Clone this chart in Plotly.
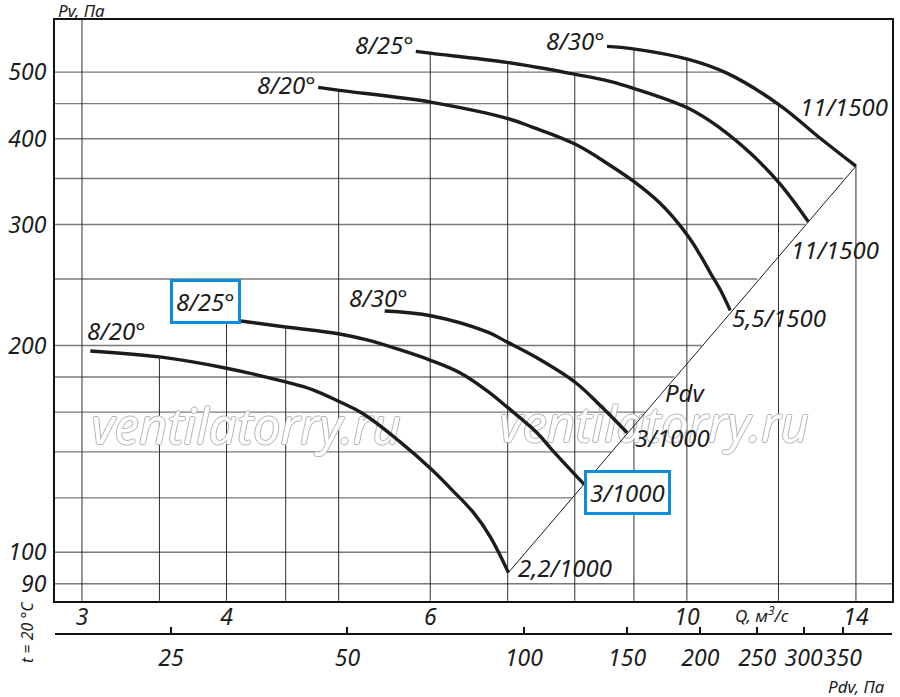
import numpy as np
import plotly.graph_objects as go

# Fan curves, Q (m3/s) vs Pv (Pa)
q_1000_20 = [3.05, 3.50, 3.99, 4.50, 4.75, 5.01, 5.25, 5.65, 6.02, 6.24, 6.54, 6.76, 7.01]
pv_1000_20 = [196.4, 192.5, 185.5, 177.0, 172.4, 165.6, 159.1, 144.8, 131.9, 124.1, 114.2, 105.4, 93.4]

q_1000_25 = [3.76, 3.99, 4.50, 5.01, 5.29, 5.62, 6.02, 6.37, 6.72, 6.99, 7.42, 7.66, 8.15]
pv_1000_25 = [221.5, 218.6, 212.8, 207.9, 203.8, 197.7, 190.0, 182.4, 171.8, 162.8, 149.3, 140.5, 125.6]

q_1000_30 = [5.48, 6.02, 6.72, 6.99, 7.42, 8.02, 8.42, 8.88]
pv_1000_30 = [224.5, 220.8, 209.3, 202.4, 191.9, 176.4, 163.4, 149.3]

q_1500_20 = [4.80, 5.01, 6.02, 6.99, 7.36, 8.01, 8.58, 8.99, 9.48, 9.73, 10.05, 10.27, 10.48,
             10.69, 10.90]
pv_1500_20 = [475.2, 470.4, 451.9, 428.3, 415.6, 392.6, 366.0, 346.9, 322.3, 307.5, 286.7, 270.7,
              255.0, 240.9, 225.0]

q_1500_25 = [5.83, 6.02, 6.99, 8.01, 8.58, 8.99, 10.03, 10.69, 11.35, 12.02, 12.73]
pv_1500_25 = [536.0, 532.4, 516.6, 496.3, 484.8, 473.6, 442.9, 414.2, 380.9, 344.6, 303.0]

q_1500_30 = [8.53, 8.99, 10.03, 10.84, 12.0, 13.04, 14.0]
pv_1500_30 = [545.1, 540.5, 521.8, 497.9, 448.9, 400.6, 364.8]

# Pdv line through the curve ends
pdv_q = [7.01, 14.0]
pdv_pv = [93.4, 364.8]

# grid (only drawn up to the curves / Pdv line, like on the drawing)
grid_pv = [90, 100, 120, 140, 160, 180, 200, 250, 300, 350, 400, 450, 500]
grid_pv_q_end = [16, 7.0, 7.96, 8.6, 9.2, 9.75, 10.3, 11.5, 12.65, 13.65, 13.0, 12.0, 10.8]
grid_q = [3, 3.5, 4, 4.5, 5, 6, 7, 8, 9, 10, 12, 14]
grid_q_pv_top = [650, 193, 218, 212, 470, 532, 517, 497, 540, 521, 449, 364.8]

q_ticks = [3, 4, 6, 10, 14]
pv_ticks = [90, 100, 200, 300, 400, 500]
pdv_ticks = [25, 50, 100, 150, 200, 250, 300, 350]

curves = [
    (q_1000_20, pv_1000_20, "8/20°", "2,2/1000"),
    (q_1000_25, pv_1000_25, "8/25°", "3/1000"),
    (q_1000_30, pv_1000_30, "8/30°", "3/1000"),
    (q_1500_20, pv_1500_20, "8/20°", "5,5/1500"),
    (q_1500_25, pv_1500_25, "8/25°", "11/1500"),
    (q_1500_30, pv_1500_30, "8/30°", "11/1500"),
]

FONT = "Noto Sans"
INK = "#1c1c1c"
BLUE = "#0b8ddb"

fig = go.Figure()

# gridlines
hx, hy = [], []
for v, qe in zip(grid_pv, grid_pv_q_end):
    hx += [2.7, qe, None]
    hy += [v, v, None]
fig.add_trace(go.Scatter(x=hx, y=hy, mode="lines", line=dict(color="#7a7a7a", width=1.4),
                         hoverinfo="skip"))
vx, vy = [], []
for q, top in zip(grid_q, grid_q_pv_top):
    vx += [q, q, None]
    vy += [80, top, None]
fig.add_trace(go.Scatter(x=vx, y=vy, mode="lines", line=dict(color="#2e2e2e", width=1),
                         hoverinfo="skip"))

# watermark, under the curves
fig.add_trace(go.Scatter(
    x=[4.16, 9.37], y=[149.8, 150.8], mode="text", text=["ventilatorry.ru"] * 2,
    textposition="middle center", hoverinfo="skip",
    textfont=dict(family=FONT, size=49, color="white", style="italic",
                  shadow="1px 0 0 #b4b4b4, -1px 0 0 #b4b4b4, 0 1px 0 #b4b4b4, 0 -1px 0 #b4b4b4")))

# Pdv line
fig.add_trace(go.Scatter(x=pdv_q, y=pdv_pv, mode="lines", line=dict(color=INK, width=1)))

for q, pv, _, _ in curves:
    fig.add_trace(go.Scatter(x=q, y=pv, mode="lines",
                             line=dict(color=INK, width=3.4, shape="spline", smoothing=1.1)))

# invisible trace so the Pdv axis gets drawn
fig.add_trace(go.Scatter(x=pdv_ticks, y=[pv_ticks[0]] * len(pdv_ticks), xaxis="x2",
                         mode="markers", marker=dict(opacity=0), hoverinfo="skip"))

lab_font = dict(family=FONT, size=24, color=INK, style="italic")


def label(q, pv, text, xanchor, dx, dy, boxed=False):
    a = dict(x=np.log10(q), y=np.log10(pv), xref="x", yref="y", text=text,
             showarrow=False, xanchor=xanchor, yanchor="middle",
             xshift=dx, yshift=-dy, font=lab_font)
    if boxed:
        a.update(bordercolor=BLUE, borderwidth=3, borderpad=3, bgcolor="white")
    return a


ann = []
# blade angle labels at the curve starts
ann.append(label(q_1000_20[0], pv_1000_20[0], curves[0][2], "center", 26, -20))
ann.append(label(q_1000_25[0], pv_1000_25[0], curves[1][2], "center", 10, -14, boxed=True))
ann.append(label(q_1000_30[0], pv_1000_30[0], curves[2][2], "center", -6, -14))
ann.append(label(q_1500_20[0], pv_1500_20[0], curves[3][2], "right", 0, -3))
ann.append(label(q_1500_25[0], pv_1500_25[0], curves[4][2], "right", 0, -7))
ann.append(label(q_1500_30[0], pv_1500_30[0], curves[5][2], "right", 0, -6))
# motor labels at the curve ends
ann.append(label(q_1000_20[-1], pv_1000_20[-1], curves[0][3], "left", 8, -5))
ann.append(label(q_1000_25[-1], pv_1000_25[-1], curves[1][3], "left", 0, 8, boxed=True))
ann.append(label(q_1000_30[-1], pv_1000_30[-1], curves[2][3], "left", 6, 5))
ann.append(label(q_1500_20[-1], pv_1500_20[-1], curves[3][3], "left", 0, 7))
ann.append(label(q_1500_25[-1], pv_1500_25[-1], curves[4][3], "left", -19, 28))
ann.append(label(q_1500_30[-1], pv_1500_30[-1], curves[5][3], "left", -58, -60))
ann.append(dict(x=np.log10(9.97), y=np.log10(170.6), xref="x", yref="y", text="Pdv",
                showarrow=False, xanchor="center", yanchor="middle", font=lab_font))

small = dict(family=FONT, size=17, color=INK, style="italic")


def paper_text(x, y, text, font, xanchor="center", **kw):
    return dict(x=x, y=y, xref="paper", yref="paper", text=text, showarrow=False,
                xanchor=xanchor, yanchor="middle", font=font, **kw)


ann.append(paper_text(0, 1, "Pv, Па", small, xanchor="left", xshift=1, yshift=10))
ann.append(paper_text(0.8444, 0.031, "Q, м<sup>3</sup>/с", small))
ann.append(paper_text(0.9944, -0.0855, "Pdv, Па", small, xanchor="right"))
ann.append(paper_text(-0.0335, 0.003, "t = 20 °C",
                      dict(family=FONT, size=16, color=INK, style="italic"), textangle=-90))

tick_font = dict(family=FONT, size=23, color=INK, style="italic")

fig.update_layout(
    width=900, height=697,
    margin=dict(l=55, r=8, t=20, b=63),
    paper_bgcolor="white", plot_bgcolor="white",
    showlegend=False,
    annotations=ann,
    xaxis=dict(type="log", range=[0.4538, 1.1773], tickvals=q_ticks,
               ticktext=[str(t) for t in q_ticks], showgrid=False, zeroline=False,
               showline=True, linecolor="#111", linewidth=2, mirror=True, ticks="",
               tickfont=tick_font, ticklabelstandoff=-5, tickangle=0, automargin=False),
    yaxis=dict(type="log", domain=[0.0542, 1], range=[1.9295, 2.7749], tickvals=pv_ticks,
               ticktext=[str(t) for t in pv_ticks], showgrid=False, zeroline=False,
               showline=True, linecolor="#111", linewidth=2, mirror=True, ticks="",
               tickfont=tick_font, ticklabelstandoff=2, automargin=False),
    xaxis2=dict(type="log", overlaying="x", anchor="free", position=0, side="bottom",
                range=[1.2, 2.628], tickvals=pdv_ticks, ticktext=[str(t) for t in pdv_ticks],
                showgrid=False, zeroline=False, showline=True, linecolor="#111",
                linewidth=2, ticks="inside", ticklen=6, tickwidth=1.5, tickcolor="#111",
                tickfont=tick_font, ticklabelstandoff=3, tickangle=0, automargin=False),
)

# drop the default page margin so the figure sits at the window corner
fig.write_html("out.html", config={"displayModeBar": False},
               post_script="document.body.style.margin='0';")
